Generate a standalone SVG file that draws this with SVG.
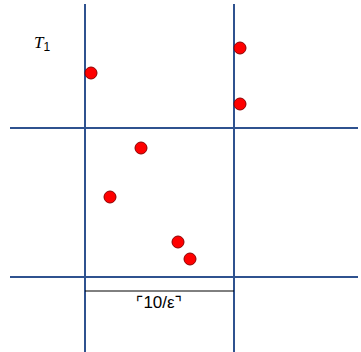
<svg xmlns="http://www.w3.org/2000/svg" width="361" height="352" viewBox="0 0 361 352">
<style>
.grid{stroke:#2F528F;stroke-width:2;fill:none}
.dot{fill:#FF0000;stroke:#8B0000;stroke-width:1}
.dim{stroke:#000;stroke-width:1}
.lbl{font-family:"Liberation Sans",Arial,sans-serif;font-size:17px;fill:#000}
.br{font-family:"DejaVu Sans",sans-serif;font-size:16px}
</style>
<rect width="361" height="352" fill="#fff"/>
<g id="connectors">
<line class="grid" x1="85" y1="4" x2="85" y2="352"/>
<line class="grid" x1="234" y1="4" x2="234" y2="352"/>
<line class="grid" x1="10" y1="128" x2="358" y2="128"/>
<line class="grid" x1="10" y1="277" x2="358" y2="277"/>
<line class="dim" x1="85" y1="291" x2="234" y2="291"/>
</g>
<g id="label-T1"><text x="34" y="48" font-family="Liberation Serif,serif" font-style="italic" font-size="17">T<tspan font-size="12" font-style="normal" font-family="Liberation Sans,sans-serif" dy="3">1</tspan></text></g>
<g id="label-dim"><text class="lbl" x="159" y="308" text-anchor="middle"><tspan class="br">⌜</tspan>10/ε<tspan class="br">⌝</tspan></text></g>
<g id="p1"><circle class="dot" cx="91" cy="73" r="6"/></g>
<g id="p2"><circle class="dot" cx="240" cy="48" r="6"/></g>
<g id="p3"><circle class="dot" cx="240" cy="104" r="6"/></g>
<g id="p4"><circle class="dot" cx="141" cy="148" r="6"/></g>
<g id="p5"><circle class="dot" cx="110" cy="197" r="6"/></g>
<g id="p6"><circle class="dot" cx="178" cy="242" r="6"/></g>
<g id="p7"><circle class="dot" cx="190" cy="259" r="6"/></g>
</svg>
